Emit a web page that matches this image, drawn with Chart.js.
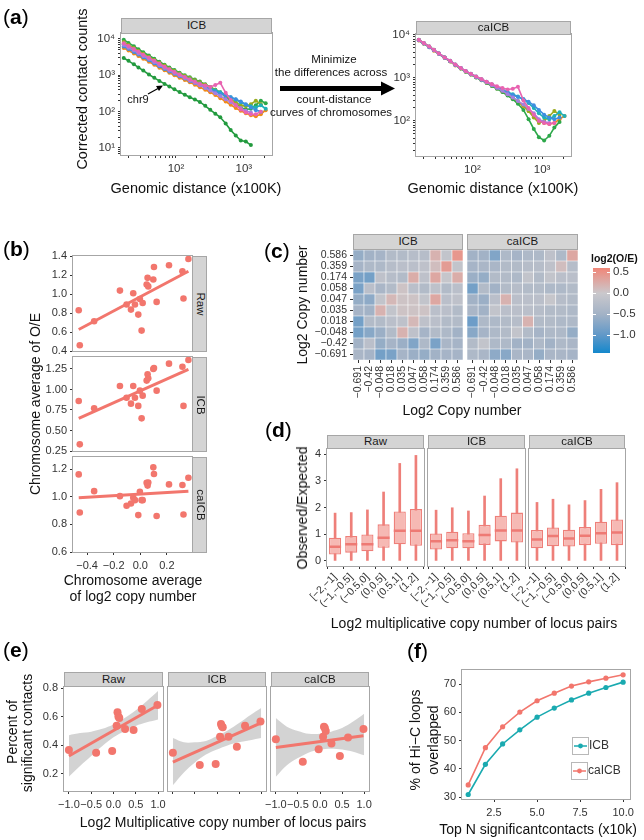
<!DOCTYPE html>
<html>
<head>
<meta charset="utf-8">
<script src="https://cdn.jsdelivr.net/npm/chart.js@4.4.1/dist/chart.umd.min.js"></script>
<style>
  body { margin: 0; background: #fff; }
  #page { position: relative; width: 644px; height: 840px; overflow: hidden; font-family: "Liberation Sans", Arial, Helvetica, sans-serif; color: #111; }
  #page canvas { position: absolute; left: 0; top: 0; }
  .t { position: absolute; white-space: nowrap; line-height: 1; }
  .strip { position: absolute; box-sizing: border-box; background: #d4d4d4; border: 1px solid #a6a6a6; color: #1a1a1a; font-size: 11.5px; }
  .strip span { position: absolute; left: 50%; top: 50%; white-space: nowrap; line-height: 1; }
</style>
</head>
<body>
<div id="page"></div>
<script>
// ---- data ----

// (a) contact count vs genomic distance (x100K), a few chromosomes per panel
const distGrid = [17, 20, 24, 28, 33, 40, 48, 57, 68, 80, 95, 113, 135, 160, 190, 225, 270, 320, 380, 450, 540, 640, 760, 900, 1070, 1270, 1500, 1780, 2100];
const icbPink = [7600, 6400, 5300, 4450, 3700, 3050, 2500, 2080, 1720, 1460, 1240, 1050, 900, 770, 660, 580, 520, 480, 540, 620, 330, 210, 150, 115, 95, 85, 85, 100];
const icbGreen = [9500, 7800, 6300, 5200, 4300, 3500, 2850, 2350, 1950, 1650, 1400, 1180, 1000, 880, 770, 670, 570, 480, 400, 330, 260, 200, 160, 130, 115, 120, 150, 200, 170];
const icbOlive = [8200, 6800, 5600, 4700, 3900, 3200, 2650, 2200, 1850, 1550, 1320, 1120, 960, 840, 730, 640, 550, 470, 400, 340, 280, 220, 180, 150, 140, 160, 200, 160];
const icbTeal = [7200, 6100, 5100, 4300, 3600, 2950, 2450, 2050, 1700, 1450, 1230, 1050, 900, 780, 680, 590, 510, 440, 390, 340, 290, 250, 215, 180, 155, 140, 130, 150, 120];
const icbBlue = [6200, 5300, 4400, 3750, 3150, 2600, 2150, 1780, 1500, 1280, 1100, 940, 810, 700, 610, 530, 460, 400, 350, 310, 280, 250, 220, 190, 160, 130, 110, 100];
const icbPurple = [6800, 5700, 4800, 4000, 3400, 2800, 2300, 1900, 1580, 1350, 1150, 980, 840, 720, 620, 530, 450, 380, 320, 270, 220, 180, 150, 125, 105, 95];
const icbOrange = [5600, 4800, 4000, 3400, 2850, 2350, 1950, 1620, 1370, 1170, 1000, 860, 740, 640, 550, 470, 400, 340, 285, 235, 190, 155, 125, 105, 90, 80, 75, 85, 110];
const icbChr9 = [3000, 2500, 2000, 1650, 1350, 1050, 850, 700, 580, 490, 410, 345, 290, 250, 215, 185, 145, 112, 88, 70, 47, 31, 22, 16, 15, 12];

const caPink = [7700, 6500, 5400, 4500, 3700, 3000, 2500, 2050, 1700, 1450, 1250, 1080, 940, 820, 720, 640, 580, 540, 560, 620, 300, 200, 140, 100, 90, 85, 90];
const caGreen = [7700, 6500, 5400, 4500, 3700, 3000, 2450, 2000, 1650, 1400, 1200, 1020, 880, 760, 650, 560, 470, 390, 320, 250, 180, 110, 65, 42, 35, 45, 70, 95];
const caOlive = [7600, 6400, 5300, 4450, 3680, 2980, 2450, 2020, 1680, 1420, 1220, 1040, 900, 780, 680, 590, 500, 420, 350, 290, 230, 170, 120, 90, 100, 130, 170, 140];
const caTeal = [7600, 6400, 5300, 4450, 3700, 3000, 2500, 2050, 1700, 1450, 1250, 1080, 930, 810, 700, 610, 530, 470, 420, 370, 320, 260, 200, 150, 120, 110, 130, 160, 130];
const caBlue = [7500, 6300, 5200, 4400, 3650, 2950, 2450, 2000, 1680, 1420, 1220, 1050, 910, 790, 690, 600, 520, 450, 400, 360, 320, 280, 230, 180, 140, 120, 110, 120];
const caPurple = [7650, 6450, 5350, 4480, 3700, 3000, 2480, 2030, 1690, 1430, 1230, 1060, 910, 790, 680, 590, 500, 420, 350, 290, 240, 190, 150, 110, 95, 90];
const caOrange = [7400, 6200, 5200, 4300, 3600, 2900, 2400, 1950, 1650, 1400, 1200, 1030, 890, 770, 660, 570, 480, 400, 330, 270, 220, 170, 130, 100, 90, 85, 90, 110, 130];

// (b) chromosome averages
const chrCopy = [-0.463, -0.455, -0.347, -0.153, -0.103, -0.07, -0.053, -0.04, -0.015, -0.003, 0.01, 0.018, 0.048, 0.055, 0.06, 0.098, 0.103, 0.123, 0.216, 0.317, 0.325, 0.362];
const chrRaw = [0.849, 0.481, 0.733, 1.056, 0.909, 0.856, 1.028, 0.909, 0.803, 0.968, 0.635, 0.926, 1.119, 1.19, 1.10, 1.172, 1.305, 0.937, 1.323, 1.26, 0.972, 1.389];
const chrICB = [0.86, 0.331, 0.77, 1.043, 0.90, 0.827, 1.043, 0.90, 0.80, 0.986, 0.648, 0.925, 1.108, 1.185, 1.136, 1.25, 1.262, 0.986, 1.315, 1.278, 0.80, 1.36];
const chrCaICB = [1.161, 0.886, 1.04, 1.004, 0.934, 0.951, 0.992, 0.975, 0.867, 1.036, 0.975, 0.975, 1.10, 1.08, 1.103, 1.212, 1.164, 0.86, 1.089, 1.084, 0.871, 1.137];
const chrFitX = [-0.463, 0.362];
const chrFitRaw = [0.646, 1.26];
const chrFitICB = [0.648, 1.246];
const chrFitCaICB = [0.992, 1.04];

// (c) heatmap, rows/cols in copyNumLabels order (row 0 = bottom)
const copyNumLabels = ['\u22120.691', '\u22120.42', '\u22120.048', '0.018', '0.035', '0.047', '0.058', '0.174', '0.359', '0.586'];
const heatICB = [
  [-0.4, -0.45, -0.85, -0.8, -0.45, -0.55, -0.6, -0.5, -0.45, -0.45],
  [-0.5, -0.2, -0.6, -0.45, -0.55, -0.75, -0.35, -0.8, -0.4, -0.45],
  [-0.85, -0.7, -0.55, -0.3, 0.2, -0.15, -0.45, -0.3, -0.35, -0.5],
  [-0.85, -0.3, -0.3, -0.2, -0.15, 0.15, -0.15, -0.2, -0.3, -0.3],
  [-0.45, -0.5, 0.2, -0.1, 0.05, 0.05, 0.05, -0.2, -0.2, -0.3],
  [-0.6, -0.65, -0.1, 0.15, 0.05, 0.05, -0.1, 0.3, -0.2, -0.15],
  [-0.8, -0.2, -0.4, -0.3, 0.05, -0.2, -0.3, -0.15, -0.3, -0.2],
  [-0.8, -0.85, -0.15, -0.25, -0.3, 0.25, -0.15, 0.3, -0.05, 0.25],
  [-0.45, -0.35, -0.35, -0.25, -0.2, -0.2, -0.15, 0.1, 0.4, -0.1],
  [-0.6, -0.5, -0.45, -0.3, -0.3, -0.25, -0.25, 0.2, -0.1, 0.45],
];
const heatCaICB = [
  [-0.35, -0.4, -0.65, -0.7, -0.4, -0.4, -0.6, -0.4, -0.4, -0.45],
  [-0.3, -0.1, -0.35, -0.35, -0.5, -0.5, -0.35, -0.5, -0.35, -0.4],
  [-0.7, -0.45, -0.35, -0.3, -0.1, -0.3, -0.45, -0.35, -0.35, -0.6],
  [-0.9, -0.35, -0.35, -0.3, -0.25, 0.2, -0.3, -0.3, -0.35, -0.35],
  [-0.4, -0.5, -0.1, -0.2, -0.2, -0.2, -0.25, -0.3, -0.3, -0.35],
  [-0.5, -0.55, -0.2, 0.2, -0.2, -0.2, -0.2, -0.05, -0.25, -0.3],
  [-0.85, -0.3, -0.5, -0.3, -0.25, -0.3, -0.3, -0.35, -0.35, -0.3],
  [-0.55, -0.6, -0.3, -0.3, -0.35, -0.1, -0.3, -0.1, -0.2, -0.2],
  [-0.45, -0.4, -0.4, -0.3, -0.3, -0.25, -0.25, -0.15, 0.1, -0.25],
  [-0.5, -0.5, -0.75, -0.35, -0.45, -0.35, -0.35, -0.15, -0.35, 0.3],
];
const legendTicks = [0.5, 0, -0.5, -1.0];

// (d) box plots of O/E per copy-number bin
const binLabels = ['[\u22122,\u22121]', '(\u22121,\u22120.5]', '(\u22120.5,0]', '(0,0.5]', '(0.5,1]', '(1,2]'];
const boxRawMin = [0, 0, 0, 0, 0, 0];
const boxRawQ1 = [0.24, 0.31, 0.36, 0.49, 0.62, 0.57];
const boxRawMed = [0.53, 0.62, 0.62, 0.87, 1.13, 1.13];
const boxRawQ3 = [0.87, 0.93, 0.99, 1.37, 1.85, 1.94];
const boxRawMax = [1.79, 1.81, 1.91, 2.58, 3.65, 3.95];
const boxIcbMin = [0, 0, 0, 0, 0, 0];
const boxIcbQ1 = [0.43, 0.47, 0.47, 0.60, 0.73, 0.69];
const boxIcbMed = [0.74, 0.77, 0.74, 0.97, 1.14, 1.14];
const boxIcbQ3 = [1.03, 1.09, 1.04, 1.35, 1.69, 1.81];
const boxIcbMax = [1.90, 1.99, 1.87, 2.43, 3.08, 3.45];
const boxCaMin = [0, 0, 0, 0, 0, 0];
const boxCaQ1 = [0.47, 0.55, 0.54, 0.59, 0.64, 0.59];
const boxCaMed = [0.80, 0.93, 0.84, 0.94, 1.04, 1.06];
const boxCaQ3 = [1.16, 1.25, 1.17, 1.27, 1.47, 1.55];
const boxCaMax = [2.19, 2.31, 2.10, 2.26, 2.68, 2.93];

// (e) percent significant contacts
const locusCopy = [-1.0, -0.39, -0.03, 0.07, 0.09, 0.11, 0.13, 0.26, 0.45, 0.635, 0.985];
const sigRaw = [0.367, 0.348, 0.36, 0.536, 0.63, 0.60, 0.59, 0.513, 0.506, 0.654, 0.682];
const sigICB = [0.348, 0.261, 0.268, 0.459, 0.548, 0.532, 0.525, 0.459, 0.39, 0.536, 0.565];
const sigCaICB = [0.442, 0.285, 0.372, 0.459, 0.529, 0.52, 0.50, 0.412, 0.325, 0.454, 0.513];
const sigFitX = [-1.0, 0.985];
const sigFitRaw = [0.325, 0.678];
const sigFitICB = [0.282, 0.555];
const sigFitCaICB = [0.384, 0.466];
const bandX = [-1, -0.75, -0.5, -0.25, 0, 0.25, 0.5, 0.75, 1];
const bandRawLo = [0.18, 0.255, 0.325, 0.395, 0.455, 0.50, 0.535, 0.56, 0.58];
const bandRawHi = [0.47, 0.485, 0.495, 0.515, 0.545, 0.59, 0.645, 0.71, 0.78];
const bandIcbLo = [0.12, 0.21, 0.28, 0.335, 0.37, 0.40, 0.42, 0.435, 0.45];
const bandIcbHi = [0.45, 0.42, 0.42, 0.43, 0.465, 0.505, 0.555, 0.61, 0.66];
const bandCaLo = [0.18, 0.26, 0.31, 0.35, 0.37, 0.375, 0.37, 0.355, 0.33];
const bandCaHi = [0.59, 0.53, 0.50, 0.48, 0.48, 0.495, 0.52, 0.565, 0.62];

// (f) loop overlap
const topN = [1, 2, 3, 4, 5, 6, 7, 8, 9, 10];
const overlapICB = [30.9, 41.6, 48.8, 53.8, 58.3, 61.5, 64.4, 66.8, 68.8, 70.7];
const overlapCaICB = [34.3, 47.5, 54.9, 60.1, 64.1, 66.8, 69.3, 70.8, 72.1, 73.3];

// ---- helpers ----
const W = 644, H = 840;
const FONT = "'Liberation Sans', Arial, Helvetica, sans-serif";
Chart.defaults.font.family = FONT;
Chart.defaults.color = '#4d4d4d';
const SALMON = '#F2766D';
const TEAL = '#1AAAB0';
const page = document.getElementById('page');

function addText(str, x, y, o = {}) {
  const d = document.createElement('div');
  d.className = 't';
  d.textContent = str;
  d.style.left = x + 'px';
  d.style.top = y + 'px';
  d.style.fontSize = (o.size || 14) + 'px';
  if (o.bold) d.style.fontWeight = 'bold';
  if (o.color) d.style.color = o.color;
  const tx = o.align === 'left' ? '0' : '-50%';
  d.style.transform = `translate(${tx},-50%)` + (o.rot ? ` rotate(${o.rot}deg)` : '');
  page.appendChild(d);
  return d;
}

function letter(ch, x, y) {
  const d = addText('', x, y, { size: 21, align: 'left', color: '#000' });
  d.innerHTML = '(<b>' + ch + '</b>)';
}

function strip(label, x1, y1, x2, y2, vertical) {
  const d = document.createElement('div');
  d.className = 'strip';
  Object.assign(d.style, { left: x1 + 'px', top: y1 + 'px', width: (x2 - x1) + 'px', height: (y2 - y1) + 'px' });
  const s = document.createElement('span');
  s.textContent = label;
  s.style.transform = 'translate(-50%,-50%)' + (vertical ? ' rotate(90deg)' : '');
  d.appendChild(s);
  page.appendChild(d);
}

const framePlugin = {
  id: 'frame',
  afterDraw(chart) {
    const a = chart.chartArea, c = chart.ctx;
    c.save();
    c.strokeStyle = '#a6a6a6';
    c.lineWidth = 1;
    c.strokeRect(a.left - 0.5, a.top - 0.5, a.right - a.left + 1, a.bottom - a.top + 1);
    c.restore();
  }
};

// every chart gets a full-page canvas; the axes take the whole left/bottom margin
// so the plot area lands exactly on box
function makeChart(box, cfg, frame = true) {
  const cv = document.createElement('canvas');
  cv.width = W; cv.height = H;
  page.appendChild(cv);
  const o = cfg.options || (cfg.options = {});
  o.responsive = false;
  o.animation = false;
  o.devicePixelRatio = 1;
  o.events = [];
  o.layout = { padding: { left: 0, top: box[1], right: W - box[2], bottom: 0 } };
  o.plugins = Object.assign({ legend: { display: false }, tooltip: { enabled: false } }, o.plugins || {});
  for (const k in o.scales) {
    o.scales[k].afterFit = sc => { if (sc.isHorizontal()) sc.height = H - box[3]; else sc.width = box[0]; };
  }
  cfg.plugins = (cfg.plugins || []).concat(frame ? [framePlugin] : []);
  return new Chart(cv, cfg);
}

function axis(o) {
  const ticks = Object.assign({ color: '#333', font: { size: 10.5 }, padding: 3, autoSkip: false, maxRotation: 0, minRotation: 0, includeBounds: false }, o.ticks || {});
  const grid = Object.assign({ drawOnChartArea: false, tickLength: 3, tickColor: '#333', tickWidth: 1 }, o.grid || {});
  return Object.assign({}, o, { ticks, grid, border: { display: false } });
}

const fmt = d => v => (Math.abs(v) < 1e-9 ? 0 : v).toFixed(d).replace('-', '\u2212');
const logTicks = sc => {
  sc.ticks = sc.ticks.filter(t => {
    const e = Math.floor(Math.log10(t.value) + 1e-9);
    const m = t.value / Math.pow(10, e);
    return Math.abs(m - Math.round(m)) < 1e-6;
  });
};
const SUP = ['\u2070', '\u00b9', '\u00b2', '\u00b3', '\u2074'];
const supLabel = v => {
  const e = Math.log10(v);
  return Math.abs(e - Math.round(e)) < 1e-6 ? '10' + SUP[Math.round(e)] : '';
};
const xy = (xs, ys) => ys.map((y, i) => ({ x: xs[i], y }));

// ---- (a) ----
function curves(list) {
  return list.map(([vals, color]) => ({
    data: xy(distGrid, vals), borderColor: color, backgroundColor: color,
    borderWidth: 1.6, pointRadius: 2, pointBorderWidth: 0
  }));
}
function distChart(box, ymin, ymax, sets) {
  makeChart(box, {
    type: 'line',
    data: { datasets: curves(sets) },
    options: {
      scales: {
        x: axis({ type: 'logarithmic', min: 15.5, max: 2600, afterBuildTicks: logTicks, ticks: { callback: supLabel, font: { size: 11.5 }, padding: 4 } }),
        y: axis({ type: 'logarithmic', min: ymin, max: ymax, afterBuildTicks: logTicks, ticks: { callback: supLabel, font: { size: 11.5 } } }),
      }
    }
  });
}
distChart([121, 33, 272, 155], 6.4, 14600, [
  [icbPink, '#E863B0'], [icbPurple, '#A47FE0'], [icbBlue, '#3D8EE0'], [icbTeal, '#1FB0B8'],
  [icbOlive, '#9AAA1E'], [icbGreen, '#2DA84A'], [icbOrange, '#F08A1A'], [icbChr9, '#229A3E']
]);
distChart([416, 34, 571, 156], 15.3, 10500, [
  [caPink, '#E863B0'], [caPurple, '#A47FE0'], [caBlue, '#3D8EE0'], [caTeal, '#1FB0B8'],
  [caOlive, '#9AAA1E'], [caGreen, '#2DA84A'], [caOrange, '#F08A1A']
]);
strip('ICB', 121, 18, 272, 34);
strip('caICB', 416, 21, 571, 35);
letter('a', 3, 16);
addText('Corrected contact counts', 82, 89, { rot: -90, size: 14.5 });
addText('Genomic distance (x100K)', 196, 188, { size: 14.5 });
addText('Genomic distance (x100K)', 493, 188, { size: 14.5 });
addText('Minimize', 334, 60, { size: 11.5 });
addText('the differences across', 331, 73, { size: 11.5 });
addText('count-distance', 334, 100, { size: 11.5 });
addText('curves of chromosomes', 331, 113, { size: 11.5 });
addText('chr9', 138, 99, { size: 11 });
page.insertAdjacentHTML('beforeend',
  '<svg width="644" height="840" style="position:absolute;left:0;top:0">' +
  '<line x1="280" y1="88.5" x2="384" y2="88.5" stroke="#000" stroke-width="5"/>' +
  '<polygon points="381,81.5 395,88.5 381,95.5" fill="#000"/>' +
  '<line x1="148" y1="94" x2="158" y2="88.5" stroke="#000" stroke-width="1.2"/>' +
  '<polygon points="156,86 163,85.5 159,91" fill="#000"/>' +
  '</svg>');

// ---- (b) ----
function chrPanel(box, ys, fitY, ymin, ymax, step, dec, showX) {
  makeChart(box, {
    type: 'line',
    data: {
      datasets: [
        { data: xy(chrCopy, ys), showLine: false, pointRadius: 3.3, pointBackgroundColor: SALMON, pointBorderWidth: 0 },
        { data: xy(chrFitX, fitY), borderColor: SALMON, borderWidth: 3, pointRadius: 0 },
      ]
    },
    options: {
      scales: {
        x: axis({ type: 'linear', min: -0.506, max: 0.389, grid: { drawTicks: showX }, ticks: { display: showX, stepSize: 0.2, callback: fmt(1), font: { size: 11 }, padding: 4 } }),
        y: axis({ type: 'linear', min: ymin, max: ymax, ticks: { stepSize: step, callback: fmt(dec), font: { size: 11 } } }),
      }
    }
  });
}
chrPanel([73, 256, 192, 351], chrRaw, chrFitRaw, 0.42, 1.42, 0.2, 1, false);
chrPanel([73, 357, 192, 451], chrICB, chrFitICB, 0.25, 1.396, 0.25, 2, false);
chrPanel([73, 457, 192, 552], chrCaICB, chrFitCaICB, 0.6, 1.287, 0.2, 1, true);
strip('Raw', 192, 256, 207, 352, true);
strip('ICB', 192, 357, 207, 452, true);
strip('caICB', 192, 457, 207, 553, true);
letter('b', 3, 248);
addText('Chromosome average of O/E', 35, 404, { rot: -90, size: 14 });
addText('Chromosome average', 133, 580, { size: 14 });
addText('of log2 copy number', 133, 596, { size: 14 });

// ---- (c) ----
const colorStops = [[-1.42, [20, 136, 204]], [-1.0, [96, 152, 200]], [-0.5, [162, 178, 198]], [0, [202, 200, 204]], [0.6, [240, 134, 120]]];
function heatColor(v) {
  for (let i = 1; i < colorStops.length; i++) {
    const [v1, c1] = colorStops[i], [v0, c0] = colorStops[i - 1];
    if (v <= v1 || i === colorStops.length - 1) {
      const t = Math.max(0, Math.min(1, (v - v0) / (v1 - v0)));
      return 'rgb(' + c0.map((c, k) => Math.round(c + (c1[k] - c) * t)).join(',') + ')';
    }
  }
}
function heatPanel(box, mat, showY) {
  makeChart(box, {
    type: 'bar',
    data: {
      labels: copyNumLabels,
      datasets: mat.map(row => ({
        data: row.map(() => 1),
        backgroundColor: row.map(heatColor),
        borderColor: '#ffffff', borderWidth: 0.6, borderSkipped: false,
        barPercentage: 1, categoryPercentage: 1
      }))
    },
    options: {
      scales: {
        x: axis({ stacked: true, grid: { offset: false }, ticks: { minRotation: 90, maxRotation: 90, font: { size: 10.5 } } }),
        y: axis({
          stacked: true, type: 'linear', min: 0, max: 10,
          afterBuildTicks: sc => { sc.ticks = copyNumLabels.map((l, i) => ({ value: i + 0.5 })); },
          grid: { drawTicks: showY },
          ticks: { display: showY, callback: (v, i) => copyNumLabels[i], font: { size: 10.5 } }
        }),
      }
    }
  }, false);
}
heatPanel([353, 250, 463, 360], heatICB, true);
heatPanel([467, 250, 578, 360], heatCaICB, false);
strip('ICB', 353, 234, 463, 250);
strip('caICB', 467, 234, 578, 250);
letter('c', 264, 250);
addText('Log2 Copy number', 302, 305, { rot: -90, size: 14 });
addText('Log2 Copy number', 462, 410, { size: 14 });
addText('log2(O/E)', 591, 258, { size: 10.5, bold: true, align: 'left' });
{
  const top = 268, bot = 353, vmax = 0.6, vmin = -1.42;
  const bar = document.createElement('div');
  const stops = colorStops.slice().reverse().map(([v, c]) => `rgb(${c.join(',')}) ${((vmax - v) / (vmax - vmin) * 100).toFixed(1)}%`);
  Object.assign(bar.style, { position: 'absolute', left: '593px', top: top + 'px', width: '17px', height: (bot - top) + 'px', background: `linear-gradient(to bottom, ${stops.join(',')})` });
  page.appendChild(bar);
  legendTicks.forEach(v => {
    const y = top + (vmax - v) / (vmax - vmin) * (bot - top);
    const tk = document.createElement('div');
    Object.assign(tk.style, { position: 'absolute', left: '593px', top: (y - 0.5) + 'px', width: '17px', height: '1px', background: 'linear-gradient(to right, #fff 0 3px, transparent 3px 14px, #fff 14px)' });
    page.appendChild(tk);
    addText(fmt(1)(v), 613, y, { size: 11.5, align: 'left', color: '#333' });
  });
}

// ---- (d) ----
function boxPanel(box, lo, q1, med, q3, hi, showY) {
  makeChart(box, {
    type: 'bar',
    data: {
      labels: binLabels,
      datasets: [
        { type: 'line', data: med, showLine: false, pointStyle: 'line', pointRadius: 6, pointBorderWidth: 2.5, pointBorderColor: '#EE7A74', order: 0 },
        { data: q1.map((v, i) => [v, q3[i]]), backgroundColor: '#F6B9B4', borderColor: '#EE7F79', borderWidth: 1.3, borderSkipped: false, grouped: false, barPercentage: 0.75, categoryPercentage: 1, order: 1 },
        { data: lo.map((v, i) => [v, hi[i]]), backgroundColor: '#EE7F79', barThickness: 2, grouped: false, order: 2 },
      ]
    },
    options: {
      scales: {
        x: axis({ ticks: { minRotation: 45, maxRotation: 45, font: { size: 10.5 }, padding: 2 } }),
        y: axis({ type: 'linear', min: -0.19, max: 4.19, grid: { drawTicks: showY }, ticks: { display: showY, stepSize: 1, font: { size: 11 } } }),
      }
    }
  });
}
boxPanel([327, 449, 424, 566], boxRawMin, boxRawQ1, boxRawMed, boxRawQ3, boxRawMax, true);
boxPanel([428, 449, 525, 566], boxIcbMin, boxIcbQ1, boxIcbMed, boxIcbQ3, boxIcbMax, false);
boxPanel([529, 449, 625, 566], boxCaMin, boxCaQ1, boxCaMed, boxCaQ3, boxCaMax, false);
strip('Raw', 327, 435, 424, 449);
strip('ICB', 428, 435, 525, 449);
strip('caICB', 529, 435, 625, 449);
letter('d', 265, 429);
addText('Observed/Expected', 302, 508, { rot: -90, size: 14 });
addText('Log2 multiplicative copy number of locus pairs', 474, 623, { size: 14 });

// ---- (e) ----
function sigPanel(box, ys, fitY, bandLo, bandHi, showY, showXLabels) {
  makeChart(box, {
    type: 'line',
    data: {
      datasets: [
        { data: xy(locusCopy, ys), showLine: false, pointRadius: 4, pointBackgroundColor: SALMON, pointBorderWidth: 0 },
        { data: xy(sigFitX, fitY), borderColor: SALMON, borderWidth: 3, pointRadius: 0 },
        { data: xy(bandX, bandLo), borderWidth: 0, pointRadius: 0, tension: 0.3, fill: false },
        { data: xy(bandX, bandHi), borderWidth: 0, pointRadius: 0, tension: 0.3, fill: '-1', backgroundColor: 'rgba(190,190,190,0.68)' },
      ]
    },
    options: {
      scales: {
        x: axis({ type: 'linear', min: -1.11, max: 1.11, ticks: { display: showXLabels, stepSize: 0.5, callback: fmt(1), font: { size: 11 }, padding: 4 } }),
        y: axis({ type: 'linear', min: 0.08, max: 0.807, grid: { drawTicks: showY }, ticks: { display: showY, stepSize: 0.2, callback: fmt(1), font: { size: 11 } } }),
      }
    }
  });
}
sigPanel([64, 687, 163, 791], sigRaw, sigFitRaw, bandRawLo, bandRawHi, true, true);
sigPanel([168, 687, 266, 791], sigICB, sigFitICB, bandIcbLo, bandIcbHi, false, false);
sigPanel([271, 687, 369, 791], sigCaICB, sigFitCaICB, bandCaLo, bandCaHi, false, true);
strip('Raw', 64, 672, 163, 687);
strip('ICB', 168, 672, 266, 687);
strip('caICB', 271, 672, 369, 687);
letter('e', 3, 649);
addText('Percent of', 12, 732, { rot: -90, size: 14 });
addText('significant contacts', 27, 733, { rot: -90, size: 14 });
addText('Log2 Multiplicative copy number of locus pairs', 223, 822, { size: 14 });

// ---- (f) ----
const legendF = {
  id: 'legendF',
  afterDraw(chart) {
    const c = chart.ctx;
    c.save();
    [['ICB', TEAL, 572, 737], ['caICB', SALMON, 571, 762]].forEach(([label, color, x, y]) => {
      c.strokeStyle = '#b8b8b8';
      c.lineWidth = 1;
      c.strokeRect(x + 0.5, y + 0.5, 16, 17);
      c.strokeStyle = color;
      c.lineWidth = 1.5;
      c.beginPath(); c.moveTo(x + 2, y + 9); c.lineTo(x + 15, y + 9); c.stroke();
      c.fillStyle = color;
      c.beginPath(); c.arc(x + 8.5, y + 9, 2.4, 0, Math.PI * 2); c.fill();
      c.fillStyle = '#333';
      c.font = '12px ' + FONT;
      c.textBaseline = 'middle';
      c.fillText(label, x + 17, y + 9);
    });
    c.restore();
  }
};
makeChart([462, 670, 630, 799], {
  type: 'line',
  data: {
    datasets: [
      { data: xy(topN, overlapCaICB), borderColor: SALMON, backgroundColor: SALMON, borderWidth: 1.6, pointRadius: 2.6, pointBorderWidth: 0 },
      { data: xy(topN, overlapICB), borderColor: TEAL, backgroundColor: TEAL, borderWidth: 1.6, pointRadius: 2.6, pointBorderWidth: 0 },
    ]
  },
  options: {
    scales: {
      x: axis({ type: 'linear', min: 0.64, max: 10.4, ticks: { stepSize: 2.5, callback: fmt(1), font: { size: 11 }, padding: 4 } }),
      y: axis({ type: 'linear', min: 29.3, max: 75, ticks: { stepSize: 10, font: { size: 11 } } }),
    }
  },
  plugins: [legendF]
});
letter('f', 407, 650);
addText('% of Hi\u2212C loops', 415, 740, { rot: -90, size: 14 });
addText('overlapped', 433, 740, { rot: -90, size: 14 });
addText('Top N significantcontacts (x10k)', 538, 829, { size: 14 });
</script>
</body>
</html>
